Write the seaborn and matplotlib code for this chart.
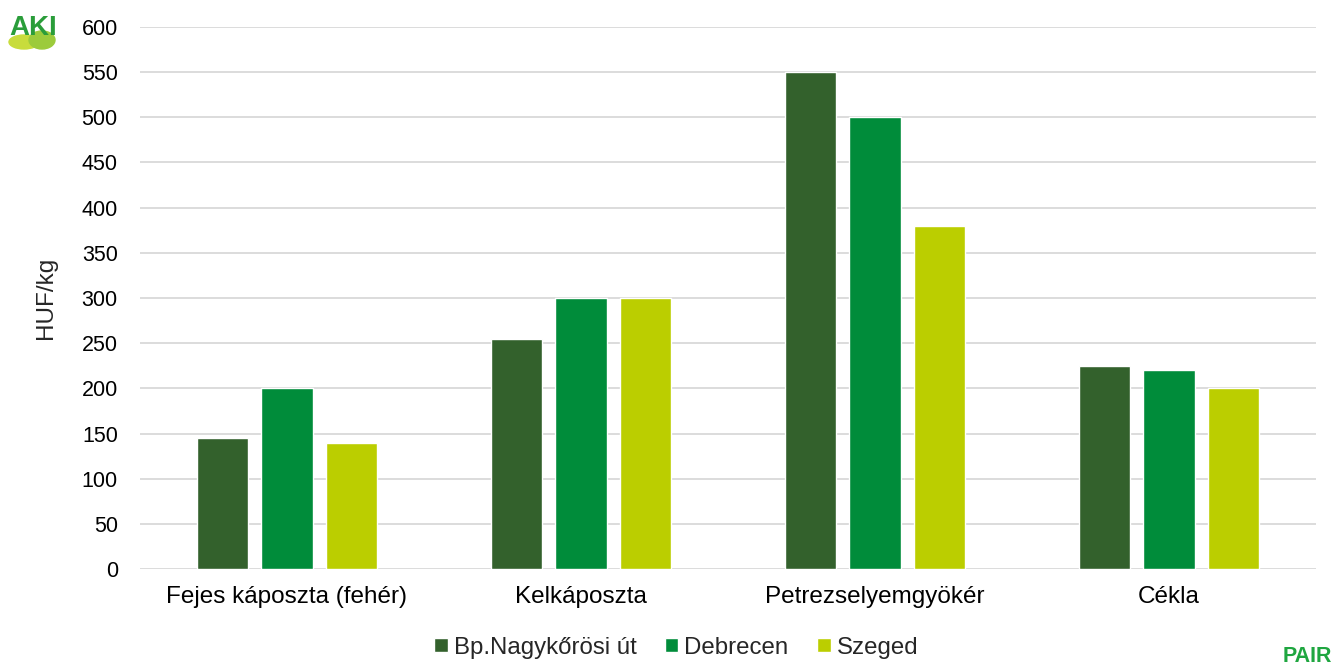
import pandas as pd
import matplotlib.pyplot as plt
import seaborn as sns
from matplotlib.patches import Ellipse

# Data
categories = ['Fejes káposzta (fehér)', 'Kelkáposzta', 'Petrezselyemgyökér', 'Cékla']
markets = ['Bp.Nagykőrösi út', 'Debrecen', 'Szeged']
bp_values = [145, 255, 550, 225]
debrecen_values = [200, 300, 500, 220]
szeged_values = [140, 300, 380, 200]
colors = ['#33612c', '#008c3a', '#bbce00']

rows = []
for market, vals in zip(markets, [bp_values, debrecen_values, szeged_values]):
    for cat, v in zip(categories, vals):
        rows.append({'cat': cat, 'market': market, 'value': v})
df = pd.DataFrame(rows)

sns.set_style('white')
plt.rcParams['font.family'] = ['Liberation Sans', 'DejaVu Sans']

fig = plt.figure(figsize=(13.38, 6.69), dpi=100)
ax = fig.add_axes([140/1338, 100/669, 1176/1338, 542/669])

sns.barplot(data=df, x='cat', y='value', hue='market', palette=colors,
            width=0.663, gap=0.215, saturation=1, ax=ax, zorder=3)

ax.set_ylim(0, 600)
ax.set_xlim(-0.5, 3.5)
ax.set_yticks(range(0, 601, 50))
ax.yaxis.grid(True, color='#d9d9d9', linewidth=1.3, zorder=0)
ax.set_axisbelow(True)
for s in ax.spines.values():
    s.set_visible(False)
ax.tick_params(axis='both', length=0, colors='black')
ax.tick_params(axis='y', pad=16, labelsize=15.5)
ax.tick_params(axis='x', pad=12, labelsize=17.5)
ax.set_xlabel('')
ax.set_ylabel('HUF/kg', fontsize=17.5, labelpad=18)

handles, labels = ax.get_legend_handles_labels()
ax.legend(handles, labels, loc='upper center', bbox_to_anchor=(0.456, -0.085),
          ncol=3, frameon=False, fontsize=17.3, handlelength=0.55, handleheight=0.55,
          handletextpad=0.25, columnspacing=1.2)

# logos
fig.patches.append(Ellipse((24/1338, 1 - 42/669), 30/1338, 14/669,
                           transform=fig.transFigure, color='#c8dc3c', zorder=1))
fig.patches.append(Ellipse((42/1338, 1 - 40/669), 26/1338, 18/669,
                           transform=fig.transFigure, color='#9ccb3b', zorder=1))
fig.text(9/1338, 1 - 35/669, 'AKI', color='#2a9d3a', fontsize=20, fontweight='bold',
         zorder=2)
fig.text(1283/1338, 1 - 667/669, 'PAIR', color='#1fa640', fontsize=15.5,
         fontweight='bold', va='bottom')

fig.savefig('out.png', dpi=100)
